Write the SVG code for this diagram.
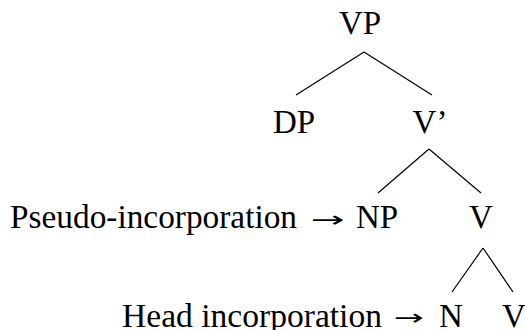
<svg xmlns="http://www.w3.org/2000/svg" width="525" height="330" viewBox="0 0 525 330">
  <style>
    text { font-family: "Liberation Serif", "DejaVu Serif", serif; font-size: 33px; fill: #000; }
    .n { text-anchor: middle; }
    .arrow { font-family: "DejaVu Sans", sans-serif; font-size: 22px; }
    .edge { stroke: #000; stroke-width: 1.2; fill: none; }
  </style>
  <rect width="525" height="330" fill="#fff"/>
  <g id="connectors">
    <path class="edge" d="M364 52 L296 95 M364 52 L432 95"/>
    <path class="edge" d="M429 149 L378 193 M429 149 L481 193"/>
    <path class="edge" d="M483 248 L452 292 M483 248 L513 292"/>
  </g>
  <g id="VP"><text class="n" x="360" y="34">VP</text></g>
  <g id="DP"><text class="n" x="294" y="133">DP</text></g>
  <g id="Vbar"><text class="n" x="430" y="133">V’</text></g>
  <g id="NP"><text class="n" x="377" y="228">NP</text></g>
  <g id="V1"><text class="n" x="481" y="228">V</text></g>
  <g id="N"><text class="n" x="451" y="327">N</text></g>
  <g id="V2"><text class="n" x="514" y="327">V</text></g>
  <g id="label-pseudo">
    <text x="10" y="228" textLength="287" lengthAdjust="spacingAndGlyphs">Pseudo-incorporation</text>
    <text class="arrow" x="311" y="227" textLength="34" lengthAdjust="spacingAndGlyphs">→</text>
  </g>
  <g id="label-head">
    <text x="122" y="327" textLength="260" lengthAdjust="spacingAndGlyphs">Head incorporation</text>
    <text class="arrow" x="394" y="325" textLength="30" lengthAdjust="spacingAndGlyphs">→</text>
  </g>
</svg>
